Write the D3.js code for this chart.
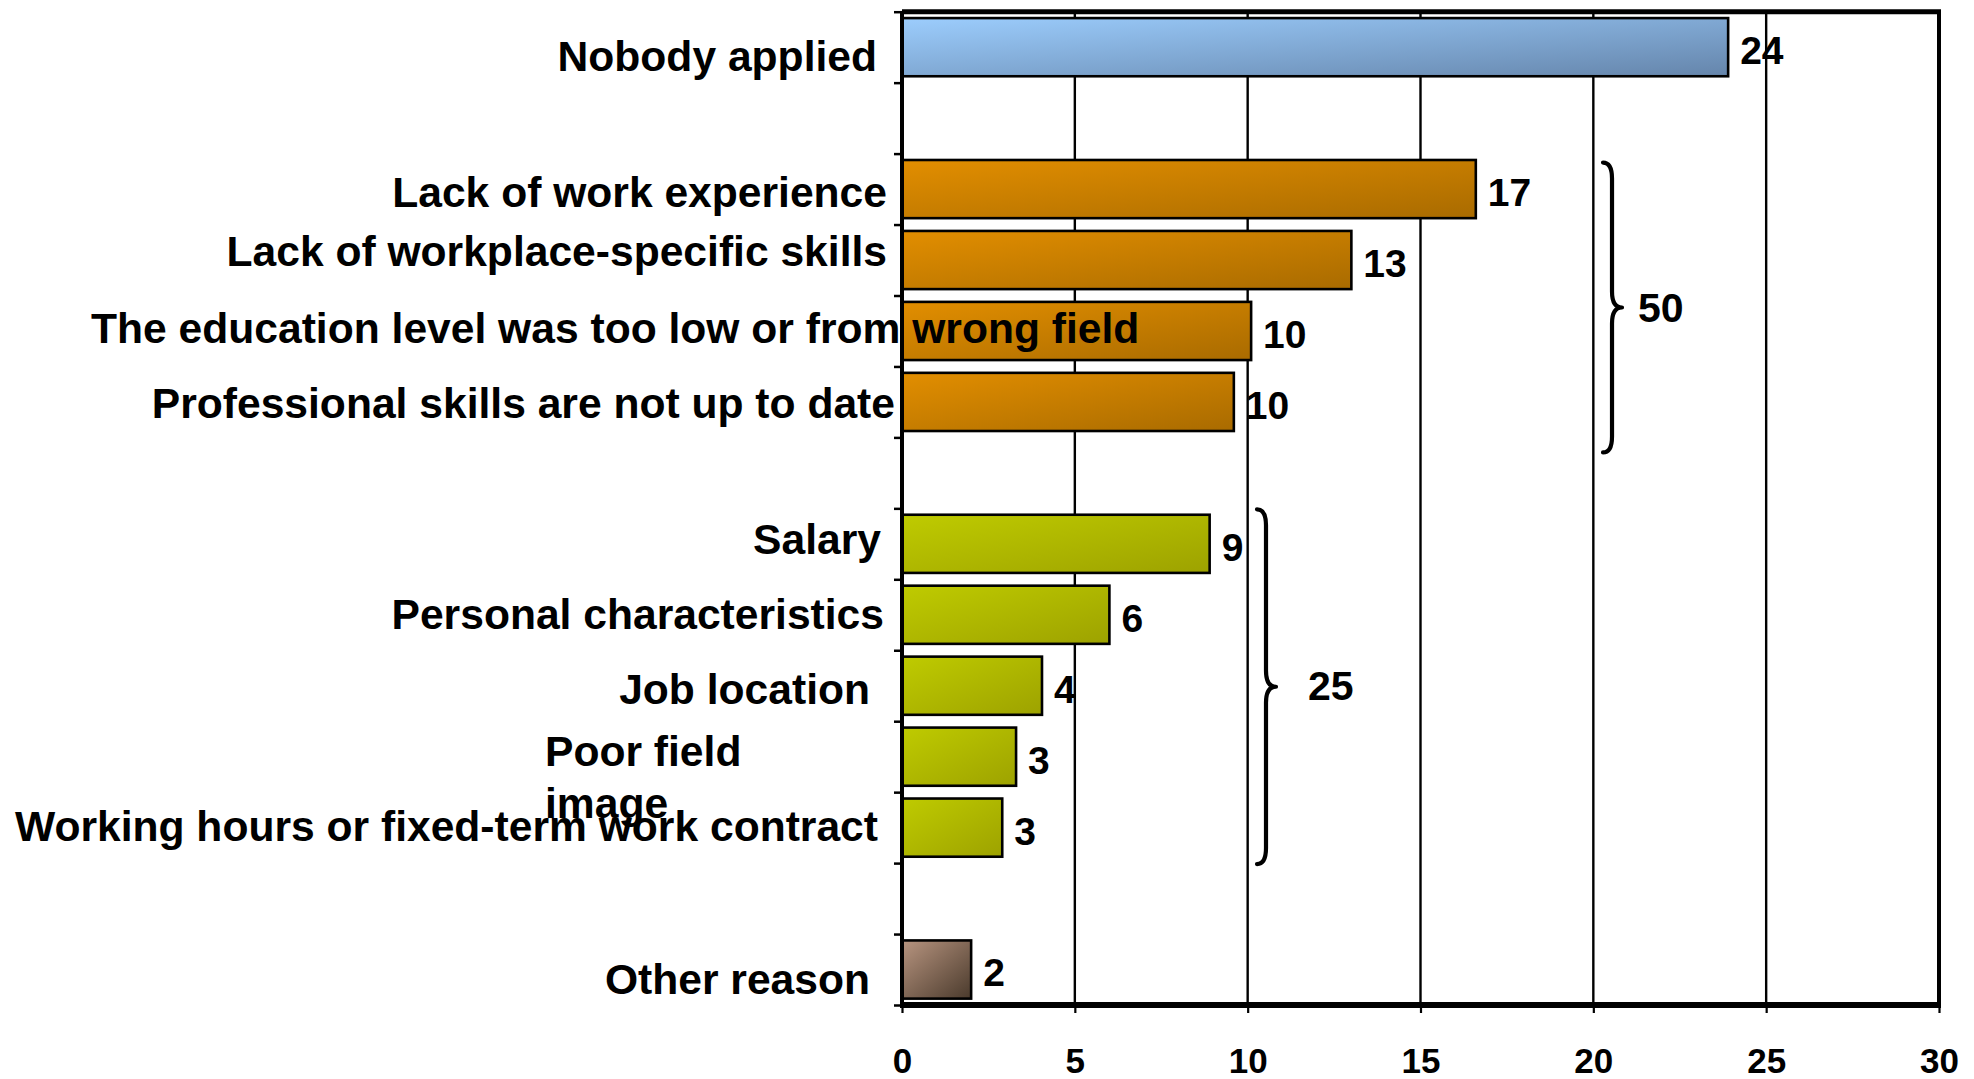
<!DOCTYPE html>
<html>
<head>
<meta charset="utf-8">
<script src="https://cdn.jsdelivr.net/npm/d3@7"></script>
<style>
  html, body { margin: 0; padding: 0; background: #ffffff; }
  svg { display: block; }
  text { font-family: "Liberation Sans", Arial, Helvetica, sans-serif; font-weight: bold; fill: #000; }
</style>
</head>
<body>
<svg id="chart" width="1974" height="1079"></svg>
<script>
// ---------------- DATA ----------------
const categories = [
  "Nobody applied",
  "Lack of work experience",
  "Lack of workplace-specific skills",
  "The education level was too low or from wrong field",
  "Professional skills are not up to date",
  "Salary",
  "Personal characteristics",
  "Job location",
  "Poor field image",
  "Working hours or fixed-term work contract",
  "Other reason"
];
const values = [23.9, 16.6, 13.0, 10.1, 9.6, 8.9, 6.0, 4.05, 3.3, 2.9, 2.0];
const valueLabels = ["24", "17", "13", "10", "10", "9", "6", "4", "3", "3", "2"];
const groups = ["top", "skills", "skills", "skills", "skills", "job", "job", "job", "job", "job", "other"];
const braceGroups = ["skills", "job"];
const braceTotals = ["50", "25"];
const xTicks = [0, 5, 10, 15, 20, 25, 30];

// ---------------- STYLE / LAYOUT ----------------
const W = 1974, H = 1079;
const plot = { left: 902, right: 1939, top: 11.7, bottom: 1005 };
const groupColors = {
  top:    ["#9ccdfd", "#6585ab"],
  skills: ["#e28e00", "#a96b00"],
  job:    ["#bfcb00", "#9da200"],
  other:  ["#b89580", "#4a3a2c"]
};
// label nudges (dx relative to right label edge, dy relative to band centre)
const labelRight = 882;
const labelLayout = {
  "Nobody applied": { dx: -5, dy: 9 },
  "Lack of work experience": { dx: 5, dy: 3 },
  "Lack of workplace-specific skills": { dx: 5, dy: -9 },
  "The education level was too low or from wrong field": { startX: 91, dy: -3 },
  "Professional skills are not up to date": { dx: 13, dy: 1 },
  "Salary": { dx: -1, dy: -5 },
  "Personal characteristics": { dx: 2, dy: -1 },
  "Job location": { dx: -12, dy: 3 },
  "Poor field image": { startX: 545, lines: ["Poor field", "image"], firstDy: 9, lineGap: 52 },
  "Working hours or fixed-term work contract": { dx: -4, dy: -2 },
  "Other reason": { dx: -12, dy: 9 }
};
const braceLayout = {
  skills: { x: 20.28, shift: 12, stretch: 3, labelDx: 16, labelDy: 0 },
  job:    { x: 10.27, shift: 1,  stretch: 0, labelDx: 32, labelDy: -1 }
};

// ---------------- BUILD ----------------
const svg = d3.select("#chart");
svg.append("rect").attr("width", W).attr("height", H).attr("fill", "#fff");

// band slots with gaps between groups
const slots = [];
let gapN = 0;
categories.forEach((c, i) => {
  if (i > 0 && groups[i] !== groups[i - 1]) slots.push("__gap" + (gapN++));
  slots.push(c);
});

const x = d3.scaleLinear().domain([0, 30]).range([plot.left, plot.right]);
const y = d3.scaleBand().domain(slots).range([plot.top, plot.bottom])
  .paddingInner(0.18).paddingOuter(0.09);
const yIdx = d3.scaleLinear().domain([0, slots.length]).range([plot.top, plot.bottom]);

// gradients
const defs = svg.append("defs");
Object.entries(groupColors).forEach(([k, [c1, c2]]) => {
  const g = defs.append("linearGradient").attr("id", "grad-" + k)
    .attr("x1", 0).attr("y1", 0).attr("x2", 1).attr("y2", 1);
  g.append("stop").attr("offset", "0%").attr("stop-color", c1);
  g.append("stop").attr("offset", "100%").attr("stop-color", c2);
});

// gridlines
svg.append("g").selectAll("line").data(xTicks.filter(t => t > 0 && t < 30)).join("line")
  .attr("x1", d => x(d)).attr("x2", d => x(d))
  .attr("y1", plot.top).attr("y2", plot.bottom)
  .attr("stroke", "#000").attr("stroke-width", 2.4);

// bars
const rows = categories.map((c, i) => ({ c, v: values[i], lab: valueLabels[i], g: groups[i] }));
svg.append("g").selectAll("rect").data(rows).join("rect")
  .attr("x", x(0))
  .attr("y", d => y(d.c))
  .attr("width", d => x(d.v) - x(0))
  .attr("height", y.bandwidth())
  .attr("fill", d => "url(#grad-" + d.g + ")")
  .attr("stroke", "#000").attr("stroke-width", 2.6);

// frame: top & right
svg.append("line").attr("x1", plot.left).attr("x2", plot.right + 2)
  .attr("y1", plot.top).attr("y2", plot.top)
  .attr("stroke", "#000").attr("stroke-width", 5);
svg.append("line").attr("x1", plot.right).attr("x2", plot.right)
  .attr("y1", plot.top).attr("y2", plot.bottom)
  .attr("stroke", "#000").attr("stroke-width", 4);

// left axis (ticks at band boundaries)
const leftAxis = d3.axisLeft(yIdx).tickValues(d3.range(slots.length + 1))
  .tickSize(8).tickFormat("");
const la = svg.append("g").attr("transform", `translate(${plot.left},0)`).call(leftAxis);
la.select(".domain").attr("stroke", "#000").attr("stroke-width", 4).attr("d", `M0,${plot.top}V${plot.bottom}`);
la.selectAll(".tick line").attr("stroke", "#000").attr("stroke-width", 2.5);

// bottom axis
const bottomAxis = d3.axisBottom(x).tickValues(xTicks).tickSize(8).tickPadding(35).tickFormat(d3.format("d"));
const ba = svg.append("g").attr("transform", `translate(0,${plot.bottom})`).call(bottomAxis);
ba.select(".domain").attr("stroke", "#000").attr("stroke-width", 5.8)
  .attr("d", `M${plot.left - 2},0H${plot.right + 2}`);
ba.selectAll(".tick line").attr("stroke", "#000").attr("stroke-width", 2.2);
ba.selectAll(".tick text").attr("font-size", 35).attr("font-weight", "bold")
  .attr("font-family", "Liberation Sans, Arial, sans-serif").attr("fill", "#000");

// category labels
const catFont = 42.6;
const capHalf = 0.358 * catFont;
const lg = svg.append("g").attr("font-size", catFont);
rows.forEach(d => {
  const L = labelLayout[d.c] || { dx: 0, dy: 0 };
  const cy = y(d.c) + y.bandwidth() / 2 + (L.dy || 0);
  if (L.lines) {
    const t = lg.append("text").attr("text-anchor", "start");
    L.lines.forEach((ln, j) => {
      t.append("tspan").attr("x", L.startX)
        .attr("y", cy + L.firstDy + j * L.lineGap)
        .text(ln);
    });
  } else if (L.startX !== undefined) {
    lg.append("text").attr("text-anchor", "start").attr("x", L.startX).attr("y", cy + capHalf).text(d.c);
  } else {
    lg.append("text").attr("text-anchor", "end").attr("x", labelRight + (L.dx || 0)).attr("y", cy + capHalf).text(d.c);
  }
});

// value labels
const valFont = 39;
svg.append("g").attr("font-size", valFont).selectAll("text").data(rows).join("text")
  .attr("x", d => x(d.v) + 12)
  .attr("y", d => y(d.c) + y.bandwidth() / 2 + 0.358 * valFont + 3)
  .text(d => d.lab);

// braces
const bg = svg.append("g");
braceGroups.forEach((gname, k) => {
  const members = categories.filter((c, i) => groups[i] === gname);
  const B = braceLayout[gname];
  const top = y(members[0]) - (y.step() - y.bandwidth()) / 2 + B.shift - B.stretch;
  const bot = y(members[members.length - 1]) + y.bandwidth() + (y.step() - y.bandwidth()) / 2 + B.shift + B.stretch;
  const mid = (top + bot) / 2;
  const x0 = x(B.x), x1 = x0 + 9, x2 = x0 + 19;
  const r = 16;
  const p = `M${x0},${top} Q${x1},${top} ${x1},${top + r} L${x1},${mid - r} Q${x1},${mid} ${x2},${mid}` +
            ` Q${x1},${mid} ${x1},${mid + r} L${x1},${bot - r} Q${x1},${bot} ${x0},${bot}`;
  bg.append("path").attr("d", p).attr("fill", "none").attr("stroke", "#000")
    .attr("stroke-width", 4.2).attr("stroke-linecap", "round").attr("stroke-linejoin", "round");
  bg.append("text").attr("font-size", 41).attr("x", x2 + B.labelDx)
    .attr("y", mid + B.labelDy + 0.358 * 41).text(braceTotals[k]);
});
</script>
</body>
</html>
